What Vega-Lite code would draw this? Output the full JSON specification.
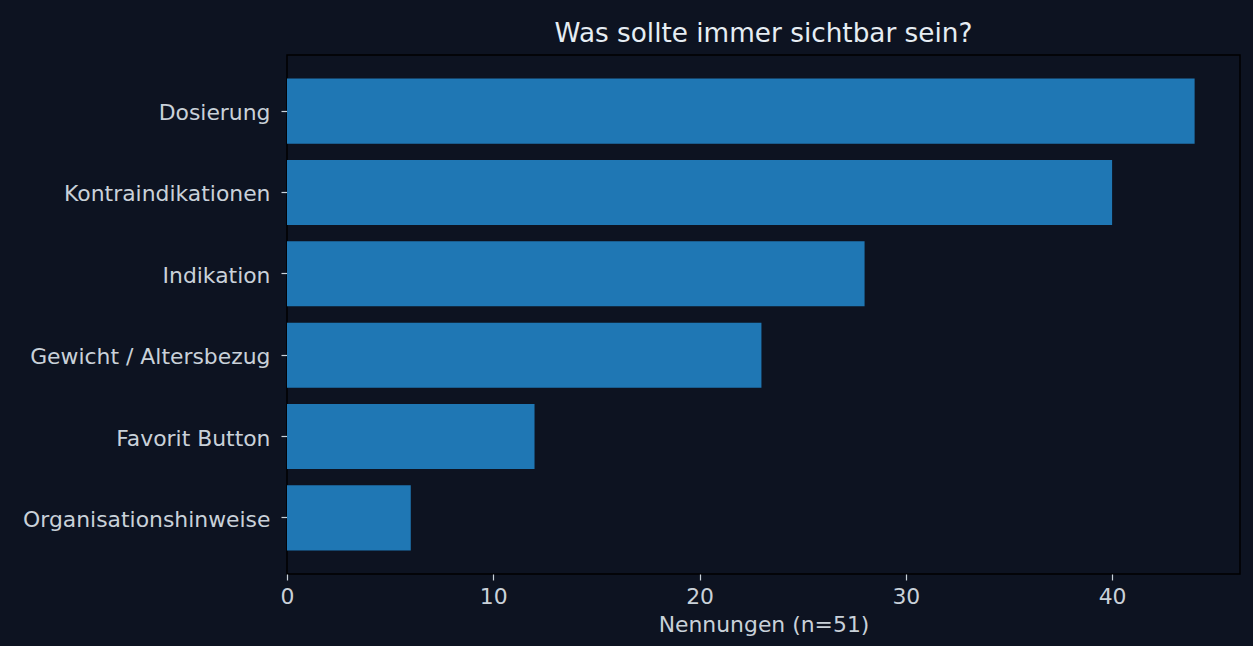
{
  "$schema": "https://vega.github.io/schema/vega-lite/v6.json",
  "autosize": "none",
  "width": 953,
  "height": 519,
  "padding": {"left": 287, "top": 55, "right": 13, "bottom": 72},
  "background": "#0d1321",
  "title": {
    "text": "Was sollte immer sichtbar sein?",
    "font": "DejaVu Sans",
    "fontSize": 26.3,
    "fontWeight": "normal",
    "color": "#e6edf3",
    "anchor": "middle",
    "offset": 8
  },
  "data": {
    "values": [
      {"kategorie": "Dosierung", "nennungen": 44},
      {"kategorie": "Kontraindikationen", "nennungen": 40},
      {"kategorie": "Indikation", "nennungen": 28},
      {"kategorie": "Gewicht / Altersbezug", "nennungen": 23},
      {"kategorie": "Favorit Button", "nennungen": 12},
      {"kategorie": "Organisationshinweise", "nennungen": 6}
    ]
  },
  "mark": {"type": "bar", "color": "#1f77b4"},
  "encoding": {
    "y": {
      "field": "kategorie",
      "type": "nominal",
      "sort": null,
      "scale": {"paddingInner": 0.2, "paddingOuter": 0.29},
      "axis": {
        "title": null,
        "domain": false,
        "grid": false,
        "labelFont": "DejaVu Sans",
        "labelFontSize": 21.9,
        "labelColor": "#c9d1d9",
        "tickColor": "#c9d1d9",
        "tickSize": 6,
        "tickWidth": 1.2,
        "labelPadding": 11,
        "labelOffset": 2,
        "labelLimit": 400
      }
    },
    "x": {
      "field": "nennungen",
      "type": "quantitative",
      "scale": {"domain": [0, 46.2], "nice": false, "zero": true},
      "axis": {
        "title": "Nennungen (n=51)",
        "values": [0, 10, 20, 30, 40],
        "domain": false,
        "grid": false,
        "labelFont": "DejaVu Sans",
        "labelFontSize": 21.9,
        "labelColor": "#c9d1d9",
        "tickColor": "#c9d1d9",
        "tickSize": 6,
        "tickWidth": 1.2,
        "labelPadding": 6,
        "labelFlush": false,
        "titleFont": "DejaVu Sans",
        "titleFontSize": 21.9,
        "titleFontWeight": "normal",
        "titleColor": "#c9d1d9",
        "titlePadding": 8
      }
    }
  },
  "config": {
    "view": {"stroke": "#000000", "strokeWidth": 1.5}
  }
}
